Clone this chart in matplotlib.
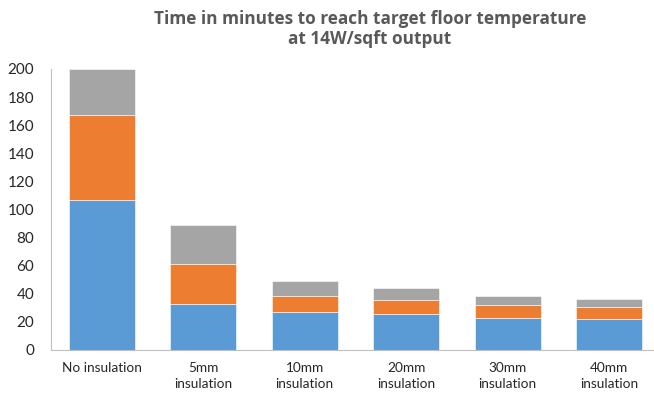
import numpy as np
import matplotlib
matplotlib.use("Agg")
import matplotlib.pyplot as plt

categories = ["No insulation", "5mm\ninsulation", "10mm\ninsulation",
              "20mm\ninsulation", "30mm\ninsulation", "40mm\ninsulation"]
blue_vals = [106.5, 32.5, 26.5, 25.5, 22.5, 22]
orange_vals = [60.5, 28.5, 12, 10, 9.5, 8.5]
gray_vals = [33, 27.5, 10, 8, 6, 5.5]
yticks = list(range(0, 201, 20))

plt.rcParams['font.family'] = ['Lato', 'DejaVu Sans']

fig = plt.figure(figsize=(6.54, 3.97), dpi=100)
ax = fig.add_axes([51/654, 47.5/397, 609/654, 280.5/397])

x = np.arange(len(categories))
w = 0.65
b = np.array(blue_vals)
o = np.array(orange_vals)
g = np.array(gray_vals)
ax.bar(x, b, w, color='#5B9BD5', edgecolor='white', linewidth=0.4)
ax.bar(x, o, w, bottom=b, color='#ED7D31', edgecolor='white', linewidth=0.4)
ax.bar(x, g, w, bottom=b + o, color='#A5A5A5', edgecolor='white', linewidth=0.4)

ax.set_xlim(-0.5, len(categories) - 0.5)
ax.set_ylim(0, 200)
ax.set_yticks(yticks)
ax.set_xticks(x)
ax.set_xticklabels(categories, fontsize=9.8, color='#262626', linespacing=1.35)
ax.tick_params(axis='y', labelsize=11, labelcolor='#262626', length=0, pad=12)
ax.tick_params(axis='x', length=0, pad=9)
for lbl in ax.get_yticklabels():
    lbl.set_horizontalalignment('right')

for s in ['top', 'right']:
    ax.spines[s].set_visible(False)
ax.spines['left'].set_color('#BFBFBF')
ax.spines['bottom'].set_color('#BFBFBF')

fig.text(370/654, 1 - 29/397, "Time in minutes to reach target floor temperature\nat 14W/sqft output",
         ha='center', va='center', fontsize=12.4, fontweight='bold', color='#595959',
         linespacing=1.15, family=['Open Sans', 'DejaVu Sans'])

fig.savefig("out.png", dpi=100)
